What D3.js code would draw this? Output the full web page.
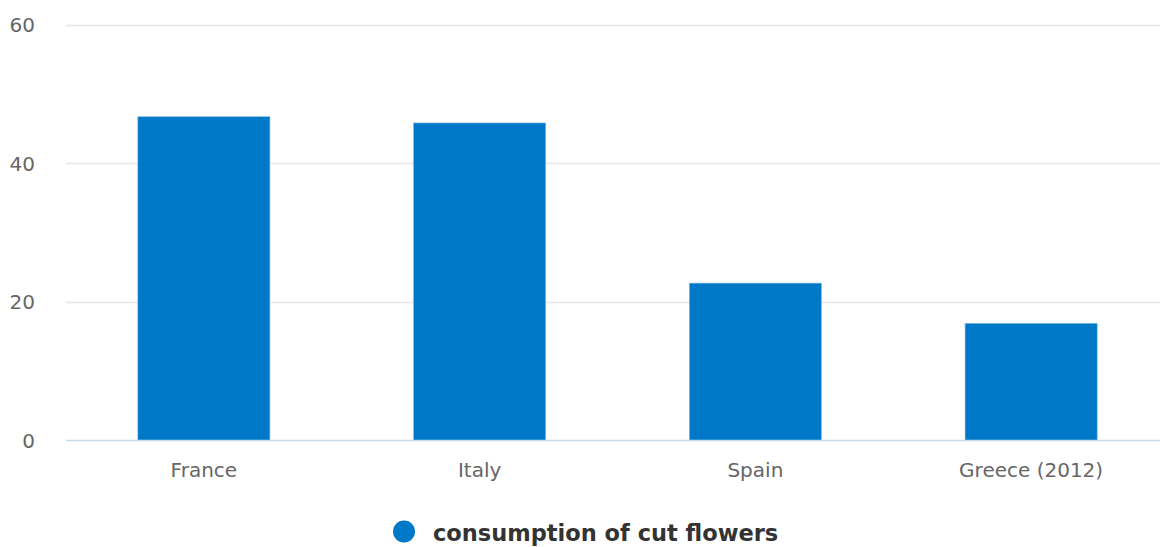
<!DOCTYPE html>
<html><head><meta charset="utf-8">
<script src="https://cdn.jsdelivr.net/npm/d3@7"></script>
<style>body{margin:0;background:#fff;} svg{display:block;font-family:"DejaVu Sans",sans-serif;}</style>
</head><body><svg id="c" width="1160" height="547"></svg>
<script>
const categories = ["France", "Italy", "Spain", "Greece (2012)"];
const values = [46.7, 45.8, 22.7, 16.9];
const yTicks = [0, 20, 40, 60];
const seriesName = "consumption of cut flowers";

const svg = d3.select("#c");
const x = d3.scaleBand().domain(categories).range([66, 1169]).padding(0);
const y = d3.scaleLinear().domain([0, 60]).range([440.5, 24.5]);

// grid
svg.append("g").selectAll("line").data(yTicks.filter(t => t !== 0)).join("line")
  .attr("x1", 66).attr("x2", 1160).attr("y1", d => Math.round(y(d)) + 0.5).attr("y2", d => Math.round(y(d)) + 0.5)
  .attr("stroke", "#e6e6e6").attr("stroke-width", 1.3);

// y labels
svg.append("g").selectAll("text").data(yTicks).join("text")
  .attr("x", 35).attr("y", d => y(d) + 7.5).attr("text-anchor", "end")
  .attr("font-size", 20).attr("fill", "#666").text(d => d);

// bars
const bw = x.bandwidth() * 0.479;
svg.append("g").selectAll("rect").data(values).join("rect")
  .attr("x", (d, i) => x(categories[i]) + x.bandwidth() / 2 - bw / 2)
  .attr("y", d => y(d)).attr("width", bw).attr("height", d => y(0) - y(d))
  .attr("fill", "#0078c8").attr("stroke", "#7fbbe3").attr("stroke-width", 0.6);

// x axis line
svg.append("line").attr("x1", 66).attr("x2", 1160).attr("y1", 440.5).attr("y2", 440.5)
  .attr("stroke", "#ccd6eb").attr("stroke-width", 1.3);

// x labels
svg.append("g").selectAll("text").data(categories).join("text")
  .attr("x", d => x(d) + x.bandwidth() / 2).attr("y", 477).attr("text-anchor", "middle")
  .attr("font-size", 20).attr("fill", "#666").text(d => d);

// legend
svg.append("circle").attr("cx", 404).attr("cy", 531.5).attr("r", 11).attr("fill", "#0078c8");
svg.append("text").attr("x", 433).attr("y", 540.5).attr("font-size", 22.5).attr("font-weight", "bold")
  .attr("fill", "#333").text(seriesName);
</script></body></html>
